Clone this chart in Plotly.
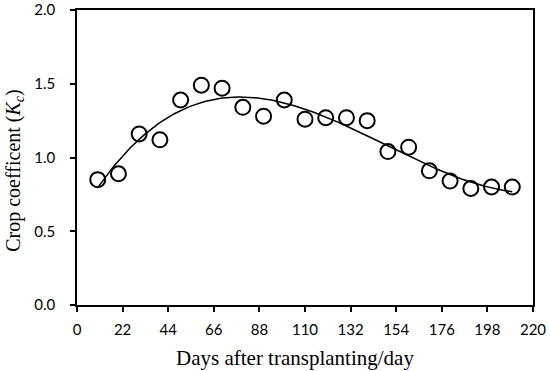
import numpy as np
import plotly.graph_objects as go

days = [10, 20, 30, 40, 50, 60, 70, 80, 90, 100, 110, 120, 130, 140, 150, 160, 170, 180, 190, 200, 210]
kc = [0.85, 0.89, 1.16, 1.12, 1.39, 1.49, 1.47, 1.34, 1.28, 1.39, 1.26, 1.27, 1.27, 1.25,
      1.04, 1.07, 0.91, 0.84, 0.79, 0.80, 0.80]
x_ticks = [0, 22, 44, 66, 88, 110, 132, 154, 176, 198, 220]
y_ticks = [0.0, 0.5, 1.0, 1.5, 2.0]

# cubic polynomial trendline fitted to the observed points
coef = np.polyfit(days, kc, 3)
xf = np.linspace(min(days), max(days), 200)
yf = np.polyval(coef, xf)

fig = go.Figure()
fig.add_trace(go.Scatter(x=xf, y=yf, mode="lines", line=dict(color="black", width=1.5),
                         showlegend=False, hoverinfo="skip"))
fig.add_trace(go.Scatter(x=days, y=kc, mode="markers",
                         marker=dict(symbol="circle-open", size=15, color="black",
                                     line=dict(width=2, color="black")),
                         showlegend=False))

fig.update_layout(
    width=550, height=371,
    margin=dict(l=77, r=17, t=10, b=66),
    paper_bgcolor="white", plot_bgcolor="white",
    font=dict(family="Lato", color="black"),
    annotations=[
        dict(text="Days after transplanting/day", xref="paper", yref="paper",
             x=0.478, y=-0.18, xanchor="center", yanchor="middle", showarrow=False,
             font=dict(family="Liberation Serif", size=21, color="black")),
        dict(text="Crop coefficent (<i>K</i><sub><i>c</i></sub>)", xref="paper", yref="paper",
             x=-0.136, y=0.455, xanchor="center", yanchor="middle", showarrow=False,
             textangle=-90,
             font=dict(family="Liberation Serif", size=20, color="black")),
    ],
)
fig.update_xaxes(range=[0, 220], tickvals=x_ticks, ticktext=[str(v) for v in x_ticks],
                 ticks="outside", ticklen=5, tickwidth=1.5, tickcolor="black",
                 showline=True, linewidth=1.5, linecolor="black", mirror=True,
                 showgrid=False, zeroline=False, automargin=False,
                 ticklabelstandoff=5,
                 tickfont=dict(family="Lato", size=15))
fig.update_yaxes(range=[0, 2.0], tickvals=y_ticks, ticktext=[f"{v:.1f}" for v in y_ticks],
                 ticks="outside", ticklen=5, tickwidth=1.5, tickcolor="black",
                 showline=True, linewidth=1.5, linecolor="black", mirror=True,
                 showgrid=False, zeroline=False, automargin=False,
                 ticklabelstandoff=12,
                 tickfont=dict(family="Lato", size=15))

fig.write_html("out.html", config={"displayModeBar": False},
               post_script="document.body.style.margin='0';document.body.style.overflow='hidden';")
